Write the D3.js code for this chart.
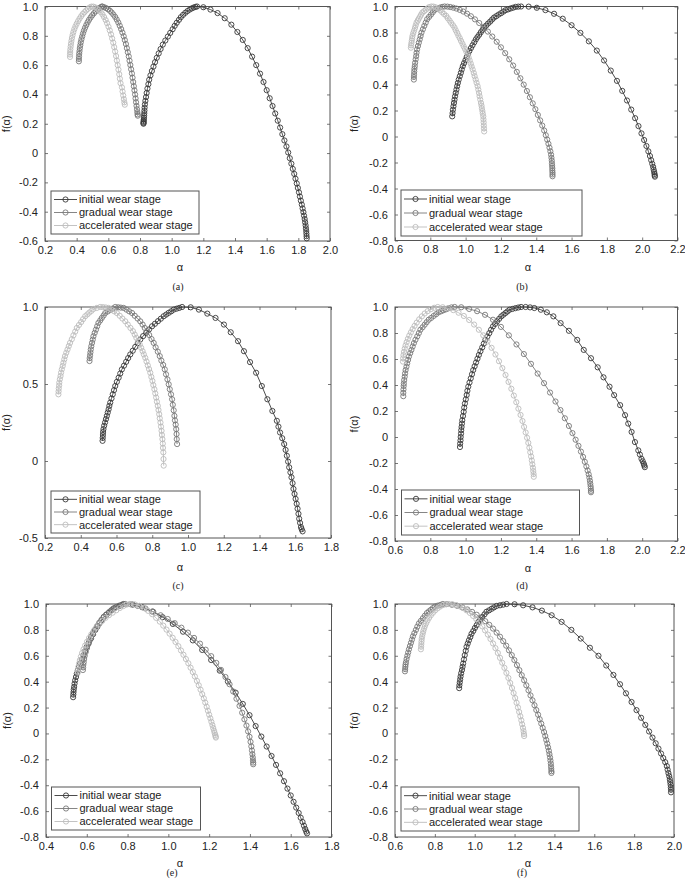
<!DOCTYPE html>
<html><head><meta charset="utf-8">
<script src="https://cdn.jsdelivr.net/npm/d3@7"></script>
<style>body{margin:0;background:#fff}svg{display:block}</style>
</head><body>
<svg id="chart" width="685" height="887"></svg>
<script>
// ---------------- DATA ----------------
const seriesNames = ["initial wear stage", "gradual wear stage", "accelerated wear stage"];

// panel (a)
const aInitial = [[0.822,0.200],[0.822,0.205],[0.823,0.212],[0.823,0.220],[0.824,0.230],[0.825,0.242],[0.826,0.256],[0.827,0.272],[0.828,0.290],[0.829,0.310],[0.831,0.332],[0.834,0.356],[0.838,0.382],[0.842,0.410],[0.847,0.440],[0.853,0.470],[0.858,0.500],[0.866,0.530],[0.875,0.560],[0.885,0.590],[0.895,0.620],[0.906,0.650],[0.918,0.680],[0.930,0.710],[0.944,0.740],[0.960,0.768],[0.976,0.795],[0.991,0.820],[1.006,0.845],[1.019,0.868],[1.032,0.889],[1.046,0.909],[1.058,0.927],[1.072,0.943],[1.086,0.957],[1.100,0.969],[1.114,0.979],[1.127,0.987],[1.139,0.993],[1.150,0.997],[1.160,1.000],
[1.200,0.995],[1.245,0.979],[1.290,0.955],[1.335,0.920],[1.377,0.876],[1.415,0.826],[1.449,0.772],[1.480,0.716],[1.508,0.658],[1.534,0.600],[1.558,0.542],[1.580,0.485],[1.600,0.429],[1.619,0.374],[1.637,0.321],[1.654,0.270],[1.670,0.221],[1.685,0.174],[1.699,0.129],[1.712,0.086],[1.725,0.045],[1.736,0.004],[1.746,-0.035],[1.756,-0.072],[1.765,-0.108],[1.774,-0.142],[1.782,-0.175],[1.790,-0.207],[1.797,-0.238],[1.804,-0.268],[1.810,-0.297],[1.816,-0.325],[1.822,-0.352],[1.827,-0.378],[1.832,-0.403],[1.836,-0.427],[1.840,-0.450],[1.843,-0.472],[1.846,-0.493],[1.848,-0.513],[1.850,-0.532],[1.851,-0.550],[1.852,-0.567],[1.853,-0.582]];
const aGradual = [[0.414,0.626],[0.414,0.642],[0.415,0.659],[0.416,0.677],[0.418,0.696],[0.420,0.716],[0.423,0.736],[0.426,0.756],[0.430,0.776],[0.435,0.796],[0.440,0.816],[0.446,0.836],[0.453,0.855],[0.461,0.874],[0.469,0.892],[0.478,0.909],[0.488,0.925],[0.498,0.940],[0.509,0.954],[0.520,0.967],[0.531,0.979],[0.542,0.989],[0.553,0.996],[0.560,1.000],
[0.562,0.999],[0.574,0.995],[0.586,0.989],[0.598,0.981],[0.610,0.971],[0.621,0.959],[0.632,0.945],[0.643,0.929],[0.653,0.911],[0.663,0.891],[0.672,0.869],[0.681,0.846],[0.689,0.822],[0.697,0.797],[0.704,0.771],[0.711,0.744],[0.717,0.716],[0.723,0.688],[0.729,0.659],[0.734,0.630],[0.739,0.601],[0.744,0.572],[0.749,0.543],[0.753,0.514],[0.757,0.485],[0.761,0.456],[0.765,0.428],[0.769,0.400],[0.772,0.373],[0.775,0.347],[0.778,0.322],[0.781,0.299],[0.783,0.279],[0.785,0.264],[0.786,0.255]];
const aAccelerated = [[0.358,0.656],[0.358,0.672],[0.359,0.689],[0.360,0.707],[0.362,0.726],[0.364,0.745],[0.367,0.765],[0.370,0.785],[0.374,0.805],[0.379,0.825],[0.385,0.845],[0.392,0.864],[0.400,0.882],[0.409,0.900],[0.418,0.917],[0.428,0.933],[0.438,0.948],[0.449,0.961],[0.460,0.973],[0.471,0.984],[0.482,0.993],[0.493,0.999],
[0.505,0.999],[0.517,0.994],[0.529,0.986],[0.541,0.975],[0.552,0.962],[0.563,0.946],[0.573,0.928],[0.583,0.908],[0.592,0.886],[0.601,0.862],[0.609,0.837],[0.617,0.810],[0.624,0.782],[0.631,0.753],[0.637,0.723],[0.643,0.693],[0.649,0.662],[0.654,0.631],[0.659,0.600],[0.664,0.569],[0.669,0.538],[0.673,0.507],[0.677,0.477],[0.686,0.448],[0.690,0.420],[0.694,0.393],[0.698,0.368],[0.701,0.346],[0.704,0.330]];

// panel (b)
const bInitial = [[0.924,0.155],[0.926,0.180],[0.928,0.206],[0.931,0.232],[0.934,0.258],[0.937,0.283],[0.940,0.309],[0.944,0.335],[0.948,0.361],[0.952,0.387],[0.956,0.412],[0.961,0.438],[0.967,0.464],[0.973,0.490],[0.978,0.515],[0.984,0.541],[0.991,0.564],[0.999,0.587],[1.006,0.611],[1.014,0.634],[1.021,0.657],[1.030,0.680],[1.039,0.702],[1.049,0.725],[1.058,0.747],[1.067,0.765],[1.077,0.783],[1.086,0.802],[1.096,0.820],[1.105,0.838],[1.116,0.853],[1.127,0.869],[1.139,0.884],[1.150,0.900],[1.161,0.915],[1.174,0.926],[1.187,0.938],[1.201,0.949],[1.214,0.961],[1.227,0.972],[1.241,0.978],[1.255,0.985],[1.269,0.991],[1.283,0.997],[1.298,0.999],[1.314,1.000],
[1.357,0.999],[1.403,0.990],[1.452,0.972],[1.501,0.944],[1.550,0.906],[1.600,0.856],[1.650,0.797],[1.698,0.732],[1.743,0.661],[1.784,0.585],[1.822,0.507],[1.857,0.428],[1.887,0.351],[1.914,0.277],[1.938,0.207],[1.960,0.141],[1.979,0.080],[1.996,0.024],[2.011,-0.027],[2.024,-0.073],[2.035,-0.114],[2.044,-0.150],[2.051,-0.182],[2.057,-0.210],[2.062,-0.234],[2.065,-0.255],[2.068,-0.273],[2.070,-0.288],[2.071,-0.300],[2.072,-0.309]];
const bGradual = [[0.707,0.438],[0.707,0.458],[0.708,0.479],[0.709,0.500],[0.710,0.520],[0.712,0.541],[0.714,0.567],[0.717,0.593],[0.720,0.619],[0.722,0.644],[0.725,0.670],[0.730,0.696],[0.735,0.722],[0.740,0.747],[0.745,0.773],[0.750,0.799],[0.758,0.825],[0.766,0.851],[0.774,0.876],[0.782,0.902],[0.793,0.920],[0.804,0.938],[0.814,0.956],[0.825,0.974],[0.839,0.982],[0.853,0.991],[0.867,0.997],[0.881,1.000],
[0.897,0.999],[0.913,0.996],[0.930,0.991],[0.948,0.984],[0.967,0.974],[0.987,0.961],[1.008,0.945],[1.030,0.925],[1.053,0.901],[1.077,0.873],[1.101,0.842],[1.126,0.807],[1.151,0.769],[1.176,0.729],[1.200,0.686],[1.224,0.641],[1.247,0.594],[1.269,0.546],[1.290,0.497],[1.310,0.448],[1.329,0.399],[1.347,0.350],[1.364,0.302],[1.380,0.255],[1.395,0.210],[1.409,0.166],[1.422,0.124],[1.434,0.084],[1.445,0.046],[1.454,0.010],[1.462,-0.024],[1.469,-0.056],[1.475,-0.086],[1.480,-0.114],[1.484,-0.140],[1.486,-0.164],[1.488,-0.186],[1.489,-0.207],[1.490,-0.226],[1.491,-0.244],[1.491,-0.261],[1.492,-0.277],[1.492,-0.292],[1.492,-0.306]];
const bAccelerated = [[0.690,0.683],[0.691,0.701],[0.693,0.719],[0.695,0.737],[0.697,0.755],[0.699,0.773],[0.703,0.794],[0.708,0.814],[0.713,0.835],[0.717,0.855],[0.722,0.876],[0.729,0.892],[0.735,0.907],[0.742,0.923],[0.748,0.938],[0.755,0.954],[0.765,0.964],[0.774,0.975],[0.784,0.985],[0.793,0.995],[0.806,1.000],
[0.818,0.999],[0.830,0.994],[0.843,0.985],[0.855,0.971],[0.867,0.956],[0.878,0.942],[0.890,0.928],[0.899,0.910],[0.909,0.892],[0.918,0.874],[0.928,0.856],[0.937,0.838],[0.944,0.817],[0.952,0.797],[0.959,0.776],[0.967,0.756],[0.974,0.735],[0.982,0.714],[0.989,0.693],[0.997,0.673],[1.004,0.652],[1.012,0.631],[1.017,0.608],[1.023,0.585],[1.029,0.561],[1.034,0.538],[1.040,0.515],[1.046,0.489],[1.051,0.464],[1.057,0.438],[1.062,0.413],[1.068,0.387],[1.072,0.361],[1.076,0.335],[1.079,0.310],[1.083,0.284],[1.087,0.258],[1.090,0.237],[1.092,0.217],[1.095,0.196],[1.097,0.176],[1.100,0.155],[1.101,0.132],[1.102,0.109],[1.103,0.085],[1.104,0.062],[1.105,0.039]];

// panel (c)
const cInitial = [[0.522,0.131],[0.523,0.150],[0.524,0.169],[0.525,0.188],[0.527,0.207],[0.531,0.229],[0.536,0.250],[0.541,0.272],[0.546,0.293],[0.551,0.315],[0.556,0.336],[0.560,0.358],[0.565,0.379],[0.572,0.406],[0.579,0.433],[0.586,0.460],[0.593,0.487],[0.602,0.514],[0.612,0.541],[0.621,0.568],[0.630,0.595],[0.642,0.619],[0.654,0.644],[0.665,0.668],[0.677,0.692],[0.691,0.716],[0.705,0.741],[0.719,0.765],[0.733,0.789],[0.749,0.811],[0.766,0.832],[0.782,0.854],[0.799,0.875],[0.815,0.891],[0.832,0.908],[0.848,0.924],[0.864,0.940],[0.878,0.951],[0.892,0.962],[0.906,0.972],[0.920,0.983],[0.936,0.989],[0.951,0.994],[0.967,1.000],
[1.015,0.998],[1.061,0.983],[1.108,0.957],[1.154,0.929],[1.201,0.886],[1.239,0.836],[1.280,0.778],[1.313,0.713],[1.347,0.642],[1.381,0.573],[1.413,0.487],[1.444,0.401],[1.472,0.325],[1.497,0.261],[1.506,0.223],[1.515,0.185],[1.527,0.148],[1.538,0.110],[1.546,0.072],[1.553,0.034],[1.560,-0.004],[1.566,-0.041],[1.573,-0.074],[1.579,-0.106],[1.585,-0.144],[1.590,-0.181],[1.596,-0.214],[1.602,-0.246],[1.608,-0.278],[1.613,-0.310],[1.618,-0.343],[1.622,-0.375],[1.627,-0.402],[1.632,-0.429],[1.636,-0.443],[1.641,-0.457]];
const cGradual = [[0.449,0.649],[0.450,0.668],[0.452,0.686],[0.454,0.705],[0.456,0.724],[0.459,0.745],[0.463,0.767],[0.467,0.788],[0.471,0.810],[0.478,0.832],[0.485,0.853],[0.492,0.875],[0.499,0.897],[0.509,0.913],[0.518,0.929],[0.528,0.945],[0.537,0.961],[0.551,0.971],[0.565,0.981],[0.579,0.990],[0.593,1.000],
[0.609,0.998],[0.624,0.996],[0.640,0.994],[0.656,0.983],[0.671,0.972],[0.687,0.961],[0.702,0.943],[0.718,0.925],[0.733,0.907],[0.746,0.886],[0.758,0.864],[0.771,0.843],[0.783,0.818],[0.796,0.792],[0.808,0.767],[0.819,0.738],[0.831,0.710],[0.842,0.681],[0.851,0.652],[0.861,0.624],[0.870,0.595],[0.877,0.563],[0.885,0.530],[0.892,0.498],[0.898,0.466],[0.905,0.433],[0.911,0.401],[0.915,0.365],[0.920,0.329],[0.924,0.293],[0.927,0.264],[0.931,0.236],[0.934,0.207],[0.936,0.175],[0.937,0.142],[0.939,0.110]];
const cAccelerated = [[0.275,0.433],[0.276,0.452],[0.277,0.471],[0.279,0.490],[0.280,0.509],[0.283,0.531],[0.287,0.552],[0.290,0.574],[0.294,0.595],[0.299,0.617],[0.303,0.638],[0.308,0.660],[0.312,0.681],[0.319,0.703],[0.326,0.724],[0.333,0.746],[0.340,0.767],[0.350,0.791],[0.359,0.816],[0.369,0.840],[0.378,0.864],[0.390,0.883],[0.402,0.902],[0.413,0.921],[0.425,0.940],[0.437,0.952],[0.448,0.964],[0.460,0.975],[0.471,0.987],[0.490,0.994],[0.509,1.000],
[0.524,0.999],[0.540,0.997],[0.556,0.994],[0.571,0.983],[0.587,0.972],[0.602,0.961],[0.618,0.943],[0.633,0.925],[0.649,0.907],[0.663,0.886],[0.678,0.864],[0.692,0.843],[0.702,0.821],[0.711,0.800],[0.721,0.778],[0.730,0.756],[0.738,0.735],[0.746,0.713],[0.753,0.692],[0.761,0.670],[0.768,0.646],[0.775,0.621],[0.782,0.597],[0.789,0.573],[0.795,0.546],[0.801,0.520],[0.806,0.493],[0.812,0.466],[0.817,0.439],[0.822,0.412],[0.826,0.385],[0.831,0.358],[0.835,0.331],[0.839,0.304],[0.842,0.277],[0.846,0.250],[0.849,0.223],[0.852,0.196],[0.854,0.169],[0.857,0.142],[0.859,0.113],[0.860,0.085],[0.862,0.056],[0.863,0.013],[0.864,-0.030]];

// panel (d)
const dInitial = [[0.968,-0.077],[0.969,-0.051],[0.971,-0.026],[0.972,0.000],[0.974,0.026],[0.975,0.052],[0.977,0.077],[0.979,0.103],[0.981,0.129],[0.985,0.161],[0.989,0.194],[0.992,0.226],[0.996,0.258],[1.001,0.290],[1.006,0.323],[1.010,0.355],[1.015,0.387],[1.022,0.419],[1.029,0.451],[1.036,0.483],[1.043,0.515],[1.051,0.544],[1.059,0.573],[1.067,0.602],[1.075,0.631],[1.084,0.660],[1.094,0.689],[1.103,0.718],[1.112,0.747],[1.123,0.773],[1.134,0.799],[1.144,0.825],[1.155,0.851],[1.167,0.870],[1.178,0.890],[1.190,0.909],[1.202,0.928],[1.214,0.941],[1.226,0.954],[1.237,0.966],[1.249,0.979],[1.265,0.985],[1.282,0.991],[1.298,0.996],[1.314,1.000],
[1.340,1.000],[1.365,0.997],[1.389,0.992],[1.426,0.979],[1.460,0.959],[1.497,0.928],[1.538,0.876],[1.585,0.817],[1.632,0.747],[1.669,0.670],[1.710,0.606],[1.748,0.536],[1.781,0.459],[1.815,0.387],[1.841,0.322],[1.875,0.245],[1.903,0.168],[1.921,0.103],[1.940,0.039],[1.959,-0.039],[1.978,-0.103],[1.987,-0.135],[1.996,-0.168],[2.003,-0.187],[2.009,-0.206],[2.012,-0.219],[2.015,-0.232]];
const dGradual = [[0.647,0.314],[0.647,0.340],[0.648,0.366],[0.649,0.392],[0.650,0.412],[0.652,0.438],[0.655,0.464],[0.657,0.489],[0.660,0.515],[0.665,0.541],[0.669,0.567],[0.674,0.593],[0.679,0.619],[0.686,0.645],[0.693,0.670],[0.700,0.696],[0.707,0.722],[0.716,0.748],[0.726,0.774],[0.735,0.799],[0.744,0.825],[0.756,0.844],[0.768,0.864],[0.779,0.883],[0.791,0.902],[0.805,0.916],[0.819,0.931],[0.833,0.945],[0.847,0.959],[0.861,0.967],[0.875,0.975],[0.889,0.982],[0.903,0.990],[0.920,0.997],[0.938,1.000],
[0.975,0.998],[1.020,0.985],[1.065,0.968],[1.110,0.940],[1.155,0.902],[1.200,0.847],[1.245,0.782],[1.288,0.712],[1.330,0.638],[1.370,0.563],[1.408,0.488],[1.444,0.414],[1.478,0.342],[1.509,0.273],[1.537,0.207],[1.562,0.144],[1.585,0.085],[1.605,0.030],[1.623,-0.021],[1.639,-0.068],[1.653,-0.112],[1.665,-0.153],[1.675,-0.191],[1.684,-0.226],[1.691,-0.258],[1.697,-0.287],[1.701,-0.313],[1.704,-0.337],[1.706,-0.359],[1.708,-0.379],[1.709,-0.397],[1.710,-0.414],[1.710,-0.425]];
const dAccelerated = [[0.645,0.580],[0.646,0.605],[0.648,0.630],[0.651,0.655],[0.655,0.680],[0.660,0.705],[0.666,0.730],[0.673,0.755],[0.681,0.780],[0.690,0.805],[0.700,0.830],[0.711,0.855],[0.723,0.880],[0.737,0.905],[0.752,0.928],[0.768,0.950],[0.785,0.968],[0.803,0.983],[0.822,0.994],[0.842,1.000],
[0.870,0.998],[0.900,0.990],[0.930,0.976],[0.960,0.956],[0.990,0.931],[1.020,0.900],[1.048,0.865],[1.075,0.825],[1.100,0.782],[1.124,0.735],[1.147,0.686],[1.169,0.635],[1.189,0.583],[1.208,0.530],[1.226,0.477],[1.243,0.424],[1.259,0.371],[1.273,0.319],[1.287,0.268],[1.299,0.218],[1.311,0.170],[1.322,0.123],[1.331,0.078],[1.340,0.035],[1.348,-0.006],[1.355,-0.045],[1.361,-0.082],[1.366,-0.117],[1.371,-0.150],[1.375,-0.181],[1.378,-0.210],[1.381,-0.237],[1.383,-0.262],[1.385,-0.285],[1.386,-0.306]];

// panel (e)
const eInitial = [[0.533,0.280],[0.534,0.300],[0.535,0.320],[0.536,0.340],[0.538,0.360],[0.540,0.385],[0.543,0.410],[0.547,0.436],[0.551,0.462],[0.556,0.488],[0.562,0.514],[0.568,0.540],[0.576,0.572],[0.584,0.605],[0.592,0.637],[0.600,0.670],[0.610,0.702],[0.621,0.735],[0.631,0.767],[0.642,0.800],[0.652,0.825],[0.662,0.850],[0.673,0.875],[0.683,0.900],[0.695,0.917],[0.708,0.933],[0.720,0.950],[0.732,0.966],[0.744,0.975],[0.757,0.983],[0.769,0.992],[0.781,1.000],
[0.825,0.995],[0.872,0.975],[0.922,0.942],[0.972,0.898],[1.022,0.846],[1.072,0.786],[1.120,0.719],[1.166,0.645],[1.210,0.567],[1.252,0.485],[1.292,0.401],[1.330,0.315],[1.365,0.228],[1.398,0.141],[1.428,0.057],[1.456,-0.024],[1.482,-0.101],[1.506,-0.174],[1.528,-0.243],[1.548,-0.308],[1.567,-0.369],[1.584,-0.426],[1.600,-0.479],[1.614,-0.528],[1.627,-0.573],[1.639,-0.614],[1.649,-0.651],[1.658,-0.684],[1.665,-0.713],[1.671,-0.738],[1.676,-0.758],[1.680,-0.772]];
const eGradual = [[0.581,0.490],[0.582,0.510],[0.583,0.530],[0.585,0.550],[0.587,0.575],[0.590,0.600],[0.595,0.630],[0.601,0.660],[0.608,0.690],[0.615,0.720],[0.622,0.750],[0.631,0.777],[0.641,0.804],[0.651,0.830],[0.661,0.855],[0.672,0.878],[0.684,0.900],[0.697,0.920],[0.711,0.940],[0.725,0.958],[0.740,0.973],[0.756,0.986],[0.772,0.995],[0.789,1.000],
[0.815,0.998],[0.850,0.985],[0.888,0.965],[0.926,0.940],[0.962,0.913],[0.997,0.884],[1.031,0.852],[1.064,0.817],[1.096,0.779],[1.126,0.738],[1.155,0.694],[1.183,0.647],[1.210,0.597],[1.235,0.545],[1.258,0.491],[1.280,0.436],[1.300,0.380],[1.318,0.324],[1.334,0.268],[1.349,0.213],[1.362,0.160],[1.373,0.109],[1.383,0.061],[1.391,0.016],[1.398,-0.026],[1.403,-0.065],[1.407,-0.100],[1.410,-0.132],[1.412,-0.160],[1.414,-0.185],[1.415,-0.207],[1.416,-0.225],[1.416,-0.238]];
const eAccelerated = [[0.556,0.470],[0.557,0.492],[0.559,0.515],[0.562,0.540],[0.566,0.566],[0.571,0.593],[0.577,0.621],[0.584,0.650],[0.592,0.679],[0.601,0.708],[0.611,0.737],[0.622,0.765],[0.634,0.793],[0.647,0.820],[0.661,0.846],[0.676,0.870],[0.692,0.893],[0.709,0.914],[0.727,0.933],[0.745,0.952],[0.762,0.969],[0.779,0.984],[0.795,0.995],[0.810,1.000],
[0.835,0.997],[0.858,0.986],[0.880,0.969],[0.901,0.947],[0.921,0.921],[0.940,0.893],[0.958,0.864],[0.975,0.833],[0.991,0.802],[1.006,0.771],[1.021,0.739],[1.035,0.707],[1.049,0.674],[1.062,0.641],[1.074,0.608],[1.086,0.575],[1.098,0.542],[1.109,0.508],[1.120,0.474],[1.130,0.440],[1.140,0.406],[1.149,0.372],[1.158,0.338],[1.166,0.304],[1.174,0.271],[1.181,0.238],[1.188,0.206],[1.194,0.175],[1.200,0.145],[1.206,0.117],[1.211,0.090],[1.216,0.065],[1.220,0.042],[1.224,0.021],[1.227,0.003],[1.230,-0.012],[1.232,-0.024],[1.233,-0.032]];

// panel (f)
const fInitial = [[0.922,0.350],[0.923,0.372],[0.925,0.395],[0.927,0.418],[0.929,0.440],[0.932,0.465],[0.936,0.490],[0.939,0.515],[0.942,0.540],[0.946,0.572],[0.950,0.605],[0.955,0.638],[0.959,0.670],[0.965,0.695],[0.971,0.720],[0.978,0.745],[0.984,0.770],[0.993,0.792],[1.001,0.815],[1.010,0.837],[1.018,0.860],[1.028,0.880],[1.038,0.900],[1.049,0.920],[1.059,0.940],[1.072,0.951],[1.085,0.963],[1.097,0.974],[1.110,0.985],[1.127,0.990],[1.143,0.995],[1.160,1.000],
[1.200,0.998],[1.243,0.990],[1.290,0.974],[1.337,0.949],[1.386,0.913],[1.436,0.862],[1.485,0.800],[1.532,0.733],[1.578,0.662],[1.621,0.600],[1.660,0.525],[1.696,0.452],[1.729,0.380],[1.759,0.310],[1.787,0.243],[1.812,0.180],[1.835,0.121],[1.856,0.066],[1.875,0.015],[1.892,-0.032],[1.908,-0.076],[1.922,-0.117],[1.935,-0.155],[1.946,-0.190],[1.956,-0.222],[1.964,-0.252],[1.968,-0.280],[1.972,-0.306],[1.976,-0.330],[1.979,-0.353],[1.981,-0.375],[1.983,-0.396],[1.984,-0.416],[1.985,-0.435],[1.985,-0.455]];
const fGradual = [[0.650,0.480],[0.651,0.497],[0.652,0.515],[0.653,0.532],[0.655,0.550],[0.658,0.575],[0.662,0.600],[0.666,0.625],[0.670,0.650],[0.675,0.675],[0.680,0.700],[0.685,0.725],[0.690,0.750],[0.697,0.775],[0.705,0.800],[0.712,0.825],[0.720,0.850],[0.730,0.870],[0.740,0.890],[0.750,0.910],[0.760,0.930],[0.770,0.943],[0.780,0.955],[0.790,0.968],[0.800,0.980],[0.813,0.987],[0.827,0.993],[0.840,1.000],
[0.860,0.999],[0.886,0.994],[0.912,0.986],[0.938,0.974],[0.963,0.958],[0.987,0.939],[1.010,0.917],[1.032,0.893],[1.053,0.867],[1.073,0.839],[1.092,0.810],[1.110,0.779],[1.127,0.747],[1.143,0.713],[1.158,0.678],[1.172,0.642],[1.186,0.605],[1.199,0.567],[1.212,0.528],[1.224,0.489],[1.236,0.450],[1.248,0.411],[1.259,0.372],[1.270,0.333],[1.280,0.294],[1.290,0.256],[1.300,0.218],[1.309,0.181],[1.318,0.145],[1.326,0.110],[1.334,0.076],[1.341,0.043],[1.348,0.011],[1.354,-0.020],[1.359,-0.050],[1.364,-0.079],[1.368,-0.107],[1.372,-0.134],[1.375,-0.160],[1.378,-0.185],[1.380,-0.209],[1.382,-0.232],[1.383,-0.254],[1.384,-0.274],[1.385,-0.292],[1.385,-0.305]];
const fAccelerated = [[0.730,0.650],[0.731,0.670],[0.732,0.690],[0.733,0.710],[0.734,0.730],[0.736,0.750],[0.739,0.770],[0.742,0.790],[0.746,0.810],[0.750,0.830],[0.756,0.850],[0.763,0.872],[0.771,0.893],[0.780,0.913],[0.790,0.932],[0.801,0.950],[0.813,0.966],[0.826,0.980],[0.840,0.991],[0.855,0.998],[0.870,1.000],
[0.888,0.998],[0.906,0.992],[0.924,0.982],[0.942,0.968],[0.959,0.951],[0.976,0.931],[0.992,0.908],[1.008,0.883],[1.023,0.856],[1.038,0.827],[1.052,0.796],[1.066,0.764],[1.079,0.730],[1.092,0.695],[1.104,0.659],[1.116,0.622],[1.127,0.584],[1.138,0.546],[1.149,0.507],[1.159,0.468],[1.169,0.429],[1.178,0.390],[1.187,0.351],[1.195,0.312],[1.203,0.274],[1.210,0.237],[1.217,0.201],[1.223,0.166],[1.229,0.133],[1.234,0.101],[1.238,0.071],[1.242,0.043],[1.245,0.018],[1.247,-0.004],[1.248,-0.020]];

// tick values
const xTicksA = [0.2,0.4,0.6,0.8,1.0,1.2,1.4,1.6,1.8,2.0];
const yTicksA = [-0.6,-0.4,-0.2,0,0.2,0.4,0.6,0.8,1.0];
const xTicksB = [0.6,0.8,1.0,1.2,1.4,1.6,1.8,2.0,2.2];
const yTicksB = [-0.8,-0.6,-0.4,-0.2,0,0.2,0.4,0.6,0.8,1.0];
const xTicksC = [0.2,0.4,0.6,0.8,1.0,1.2,1.4,1.6,1.8];
const yTicksC = [-0.5,0,0.5,1.0];
const xTicksE = [0.4,0.6,0.8,1.0,1.2,1.4,1.6,1.8];
const xTicksF = [0.6,0.8,1.0,1.2,1.4,1.6,1.8,2.0];
const captions = ["(a)","(b)","(c)","(d)","(e)","(f)"];

// ---------------- LAYOUT / STYLE ----------------
const colors = ["#383838", "#787878", "#bcbcbc"];
const FONT = "'Liberation Sans', Arial, sans-serif";
const SERIF = "'Liberation Serif', 'Times New Roman', serif";

const panels = [
  {series:[aInitial,aGradual,aAccelerated], xt:xTicksA, yt:yTicksA, px:[45,330], py:[6.5,241], leg:[51,191,148,43], cap:[178,286], al:[180,267], fl:6},
  {series:[bInitial,bGradual,bAccelerated], xt:xTicksB, yt:yTicksB, px:[395,677.5], py:[6.5,240.5], leg:[401,190,181,46], cap:[522,286], al:[528,267], fl:354},
  {series:[cInitial,cGradual,cAccelerated], xt:xTicksC, yt:yTicksC, px:[45,331], py:[307,538], leg:[51,491,149,42], cap:[178,585], al:[180,567], fl:6},
  {series:[dInitial,dGradual,dAccelerated], xt:xTicksB, yt:yTicksB, px:[395,677.5], py:[307,541], leg:[401.5,490,178,45], cap:[522,585], al:[528,568], fl:354},
  {series:[eInitial,eGradual,eAccelerated], xt:xTicksE, yt:yTicksB, px:[46,331.5], py:[604,837], leg:[51.5,787,149,43], cap:[172,872], al:[180,863], fl:7},
  {series:[fInitial,fGradual,fAccelerated], xt:xTicksF, yt:yTicksB, px:[395,674], py:[604,837], leg:[401,787,178,44], cap:[522,872], al:[528,863], fl:354}
];

const fmt = d => d === 0 ? "0" : (d < 0 ? "-" : "") + Math.abs(d).toFixed(1);
const svg = d3.select("#chart");

panels.forEach((p, i) => {
  const x = d3.scaleLinear().domain([p.xt[0], p.xt[p.xt.length-1]]).range(p.px);
  const y = d3.scaleLinear().domain([p.yt[0], p.yt[p.yt.length-1]]).range([p.py[1], p.py[0]]);
  const g = svg.append("g");

  const styleAxis = sel => {
    sel.select(".domain").remove();
    sel.selectAll(".tick line").attr("stroke", "#555").attr("stroke-width", 0.8);
    sel.selectAll("text").attr("font-family", FONT).attr("font-size", 11).attr("fill", "#222");
  };
  g.append("g").attr("transform", `translate(0,${p.py[1]})`)
    .call(d3.axisBottom(x).tickValues(p.xt).tickSize(-3).tickPadding(5).tickFormat(fmt)).call(styleAxis);
  g.append("g").attr("transform", `translate(0,${p.py[0]})`)
    .call(d3.axisTop(x).tickValues(p.xt).tickSize(-3).tickFormat("")).call(styleAxis);
  g.append("g").attr("transform", `translate(${p.px[0]},0)`)
    .call(d3.axisLeft(y).tickValues(p.yt).tickSize(-3).tickPadding(7).tickFormat(fmt)).call(styleAxis);
  g.append("g").attr("transform", `translate(${p.px[1]},0)`)
    .call(d3.axisRight(y).tickValues(p.yt).tickSize(-3).tickFormat("")).call(styleAxis);

  g.append("rect").attr("x", p.px[0]).attr("y", p.py[0])
    .attr("width", p.px[1]-p.px[0]).attr("height", p.py[1]-p.py[0])
    .attr("fill", "none").attr("stroke", "#555").attr("stroke-width", 1);

  const line = d3.line().x(d => x(d[0])).y(d => y(d[1]));
  p.series.forEach((s, k) => {
    const sg = g.append("g");
    sg.append("path").datum(s).attr("d", line).attr("fill", "none")
      .attr("stroke", colors[k]).attr("stroke-width", 0.9);
    sg.selectAll("circle").data(s).join("circle")
      .attr("cx", d => x(d[0])).attr("cy", d => y(d[1])).attr("r", 2.6)
      .attr("fill", "none").attr("stroke", colors[k]).attr("stroke-width", 0.9);
  });

  const [lx, ly, lw, lh] = p.leg;
  const lg = g.append("g");
  lg.append("rect").attr("x", lx).attr("y", ly).attr("width", lw).attr("height", lh)
    .attr("fill", "#fff").attr("stroke", "#555").attr("stroke-width", 1);
  const rowH = (lh - 4) / 3;
  seriesNames.forEach((n, k) => {
    const ry = ly + 2 + rowH * (k + 0.5);
    lg.append("line").attr("x1", lx+3).attr("x2", lx+26).attr("y1", ry).attr("y2", ry)
      .attr("stroke", colors[k]).attr("stroke-width", 0.9);
    lg.append("circle").attr("cx", lx+14.5).attr("cy", ry).attr("r", 2.6)
      .attr("fill", "none").attr("stroke", colors[k]).attr("stroke-width", 0.9);
    lg.append("text").attr("x", lx+28).attr("y", ry).attr("dy", "0.35em")
      .attr("font-family", FONT).attr("font-size", 11).attr("fill", "#222").text(n);
  });

  g.append("text").attr("x", p.al[0]).attr("y", p.al[1]).attr("dy", "0.35em")
    .attr("text-anchor", "middle").attr("font-family", FONT).attr("font-size", 11)
    .attr("fill", "#222").text("α");
  g.append("text").attr("transform", `translate(${p.fl},${(p.py[0]+p.py[1])/2}) rotate(-90)`)
    .attr("dy", "0.35em").attr("text-anchor", "middle").attr("font-family", FONT)
    .attr("font-size", 11).attr("fill", "#222").text("f(α)");
  g.append("text").attr("x", p.cap[0]).attr("y", p.cap[1]).attr("dy", "0.35em")
    .attr("text-anchor", "middle").attr("font-family", SERIF).attr("font-size", 10)
    .attr("fill", "#222").text(captions[i]);
});
</script>
</body></html>
